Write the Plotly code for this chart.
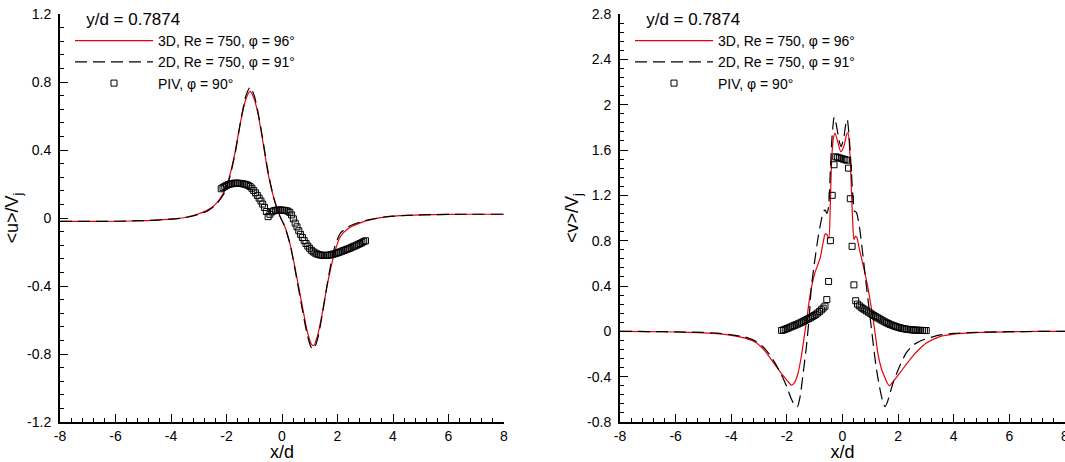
import plotly.graph_objects as go

# ---------------- data: left panel  <u>/Vj ----------------
x_u3d = [-8, -7, -6, -5, -4.5, -4, -3.5, -3.0, -2.7, -2.4, -2.1, -1.9, -1.7, -1.5, -1.3, -1.15,
         -1.0, -0.85, -0.7, -0.5, -0.3, -0.1, 0.1, 0.3, 0.5, 0.7, 0.9, 1.05, 1.15, 1.3, 1.45, 1.6,
         1.75, 1.9, 2.1, 2.4, 2.8, 3.2, 3.8, 4.5, 5.5, 6.5, 8]
u_3d = [-0.02, -0.02, -0.019, -0.016, -0.012, -0.007, 0.003, 0.025, 0.045, 0.08, 0.15, 0.24, 0.38,
        0.56, 0.70, 0.745, 0.70, 0.60, 0.46, 0.26, 0.12, 0.02, -0.05, -0.16, -0.32, -0.49, -0.66,
        -0.74, -0.75, -0.68, -0.56, -0.42, -0.30, -0.20, -0.11, -0.06, -0.03, -0.01, 0.008, 0.015,
        0.02, 0.022, 0.022]

x_u2d = [-8, -7, -6, -5, -4.5, -4, -3.5, -3.0, -2.7, -2.4, -2.1, -1.9, -1.7, -1.5, -1.3, -1.15,
         -1.0, -0.85, -0.7, -0.5, -0.3, -0.1, 0.1, 0.3, 0.5, 0.7, 0.9, 1.05, 1.15, 1.3, 1.45, 1.6,
         1.75, 1.9, 2.1, 2.4, 2.8, 3.2, 3.8, 4.5, 5.5, 6.5, 8]
u_2d = [-0.02, -0.02, -0.019, -0.016, -0.012, -0.007, 0.002, 0.022, 0.04, 0.075, 0.14, 0.23, 0.37,
        0.56, 0.72, 0.77, 0.72, 0.61, 0.47, 0.27, 0.12, 0.02, -0.05, -0.16, -0.33, -0.51, -0.68,
        -0.76, -0.77, -0.70, -0.57, -0.42, -0.28, -0.17, -0.09, -0.05, -0.025, -0.008, 0.008, 0.015,
        0.02, 0.022, 0.022]

# PIV measurement positions (shared by both panels)
x_piv = [-2.19, -2.125, -2.06, -1.995, -1.93, -1.865, -1.8, -1.735, -1.67, -1.605, -1.54, -1.475,
         -1.41, -1.345, -1.28, -1.215, -1.15, -1.085, -1.02, -0.955, -0.89, -0.825, -0.76, -0.695,
         -0.63, -0.565, -0.5, -0.435, -0.37, -0.305, -0.24, -0.175, -0.11, -0.045, 0.02, 0.085,
         0.15, 0.215, 0.28, 0.345, 0.41, 0.475, 0.54, 0.605, 0.67, 0.735, 0.8, 0.865, 0.93, 0.995,
         1.06, 1.125, 1.19, 1.255, 1.32, 1.385, 1.45, 1.515, 1.58, 1.645, 1.71, 1.775, 1.84, 1.905,
         1.97, 2.035, 2.1, 2.165, 2.23, 2.295, 2.36, 2.425, 2.49, 2.555, 2.62, 2.685, 2.75, 2.815,
         2.88, 2.945, 3.01]
u_piv = [0.172, 0.180, 0.186, 0.192, 0.197, 0.200, 0.202, 0.204, 0.205, 0.205, 0.204, 0.203,
         0.201, 0.199, 0.196, 0.192, 0.185, 0.175, 0.162, 0.148, 0.133, 0.117, 0.100, 0.082,
         0.062, 0.038, 0.008, 0.022, 0.036, 0.042, 0.045, 0.046, 0.047, 0.047, 0.046, 0.045,
         0.043, 0.040, 0.033, 0.018, -0.005, -0.030, -0.052, -0.075, -0.096, -0.115, -0.133, -0.150,
         -0.165, -0.178, -0.190, -0.199, -0.206, -0.211, -0.215, -0.218, -0.219, -0.220, -0.220,
         -0.219, -0.218, -0.216, -0.213, -0.210, -0.207, -0.203, -0.199, -0.195, -0.191, -0.187,
         -0.183, -0.179, -0.174, -0.169, -0.165, -0.160, -0.155, -0.150, -0.145, -0.139, -0.134]

# ---------------- data: right panel  <v>/Vj ----------------
x_v3d = [-8, -7, -6, -5, -4.5, -4, -3.5, -3.1, -2.8, -2.5, -2.2, -2.0, -1.84, -1.72, -1.6, -1.48,
         -1.36, -1.25, -1.18, -1.08, -1.0, -0.9, -0.8, -0.7, -0.62, -0.55, -0.49, -0.44, -0.4,
         -0.34, -0.27, -0.18, -0.06, 0.06, 0.15, 0.2, 0.27, 0.32, 0.37, 0.41, 0.47, 0.53, 0.6,
         0.67, 0.8, 0.91, 1.0, 1.09, 1.18, 1.27, 1.4, 1.51, 1.62, 1.69, 1.8, 2.05, 2.3, 2.52,
         2.75, 3.0, 3.5, 4, 4.5, 5, 6, 7, 8]
v_3d = [0.0, -0.002, -0.006, -0.013, -0.02, -0.035, -0.06, -0.10, -0.17, -0.27, -0.37, -0.43,
        -0.475, -0.45, -0.37, -0.22, -0.02, 0.17, 0.30, 0.43, 0.51, 0.58, 0.65, 0.78, 0.86, 0.85,
        0.82, 1.1, 1.45, 1.68, 1.75, 1.68, 1.585, 1.64, 1.74, 1.75, 1.55, 1.25, 0.95, 0.81, 0.84,
        0.82, 0.73, 0.66, 0.52, 0.39, 0.26, 0.13, -0.03, -0.19, -0.33, -0.40, -0.46, -0.48,
        -0.45, -0.37, -0.29, -0.22, -0.16, -0.106, -0.047, -0.025, -0.016, -0.01, -0.004,
        -0.001, 0.0]

x_v2d = [-8, -7, -6, -5, -4.5, -4, -3.5, -3.1, -2.8, -2.5, -2.2, -2.0, -1.85, -1.7, -1.62, -1.52,
         -1.42, -1.3, -1.2, -1.12, -1.0, -0.89, -0.78, -0.68, -0.62, -0.56, -0.5, -0.44, -0.38,
         -0.3, -0.22, -0.12, -0.05, 0.04, 0.12, 0.17, 0.24, 0.31, 0.37, 0.43, 0.5, 0.61, 0.73,
         0.85, 0.97, 1.09, 1.2, 1.33, 1.45, 1.53, 1.62, 1.81, 2.05, 2.29, 2.55, 2.88, 3.48, 4,
         5, 6, 7, 8]
v_2d = [0.0, -0.002, -0.005, -0.01, -0.016, -0.03, -0.05, -0.09, -0.15, -0.25, -0.38, -0.49,
        -0.59, -0.66, -0.665, -0.57, -0.38, -0.14, 0.12, 0.39, 0.62, 0.81, 0.96, 1.06, 1.07, 1.04,
        1.1, 1.4, 1.70, 1.89, 1.82, 1.68, 1.63, 1.70, 1.83, 1.87, 1.72, 1.45, 1.2, 1.06, 1.05,
        0.92, 0.68, 0.42, 0.17, -0.08, -0.30, -0.49, -0.62, -0.665, -0.62, -0.46, -0.31, -0.19,
        -0.12, -0.077, -0.033, -0.018, -0.008, -0.003, -0.001, 0.0]

v_piv = [0.008, 0.012, 0.018, 0.025, 0.031, 0.038, 0.045, 0.052, 0.058, 0.065, 0.072, 0.080,
         0.088, 0.096, 0.104, 0.112, 0.120, 0.130, 0.140, 0.150, 0.162, 0.175, 0.190, 0.205,
         0.222, 0.280, 0.44, 0.80, 1.20, 1.47, 1.54, 1.535, 1.53, 1.525, 1.52, 1.515, 1.51, 1.44,
         1.17, 0.75, 0.41, 0.27, 0.240, 0.225, 0.212, 0.200, 0.190, 0.180, 0.170, 0.160, 0.150,
         0.140, 0.130, 0.120, 0.111, 0.102, 0.093, 0.084, 0.076, 0.068, 0.061, 0.055, 0.049,
         0.043, 0.038, 0.033, 0.029, 0.025, 0.022, 0.019, 0.017, 0.015, 0.013, 0.012, 0.011,
         0.010, 0.009, 0.008, 0.008, 0.007, 0.007]

# ---------------- labels & ticks ----------------
legend_title = "&nbsp;&nbsp;&nbsp;y/d = 0.7874"
name_3d = "3D, Re = 750, φ = 96°"
name_2d = "2D, Re = 750, φ = 91°"
name_piv = "PIV, φ = 90°"
x_ticks = [-8, -6, -4, -2, 0, 2, 4, 6, 8]
x_ticktext = ["-8", "-6", "-4", "-2", "0", "2", "4", "6", "8"]
u_ticks = [-1.2, -0.8, -0.4, 0, 0.4, 0.8, 1.2]
u_ticktext = ["-1.2", "-0.8", "-0.4", "0", "0.4", "0.8", "1.2"]
v_ticks = [-0.8, -0.4, 0, 0.4, 0.8, 1.2, 1.6, 2, 2.4, 2.8]
v_ticktext = ["-0.8", "-0.4", "0", "0.4", "0.8", "1.2", "1.6", "2", "2.4", "2.8"]

FONT = "Liberation Sans, Arial, Helvetica, sans-serif"
RED = "#e8000b"
DASH = "12px,6px"

fig = go.Figure()

# left panel
fig.add_trace(go.Scatter(x=x_u3d, y=u_3d, mode="lines", name=name_3d,
                         line=dict(color=RED, width=1.2, shape="spline", smoothing=0.6),
                         xaxis="x", yaxis="y", legend="legend"))
fig.add_trace(go.Scatter(x=x_u2d, y=u_2d, mode="lines", name=name_2d,
                         line=dict(color="black", width=1.2, dash=DASH, shape="spline", smoothing=0.6),
                         xaxis="x", yaxis="y", legend="legend"))
fig.add_trace(go.Scatter(x=x_piv, y=u_piv, mode="markers", name=name_piv,
                         marker=dict(symbol="square-open", size=6, color="black", line=dict(width=1)),
                         xaxis="x", yaxis="y", legend="legend"))

# right panel
fig.add_trace(go.Scatter(x=x_v3d, y=v_3d, mode="lines", name=name_3d,
                         line=dict(color=RED, width=1.2, shape="spline", smoothing=0.6),
                         xaxis="x2", yaxis="y2", legend="legend2"))
fig.add_trace(go.Scatter(x=x_v2d, y=v_2d, mode="lines", name=name_2d,
                         line=dict(color="black", width=1.2, dash=DASH, shape="spline", smoothing=0.6),
                         xaxis="x2", yaxis="y2", legend="legend2"))
fig.add_trace(go.Scatter(x=x_piv, y=v_piv, mode="markers", name=name_piv,
                         marker=dict(symbol="square-open", size=6, color="black", line=dict(width=1)),
                         xaxis="x2", yaxis="y2", legend="legend2"))

L, R, T, B = 60, 0, 14, 40
W, H = 1065, 462
PW = W - L - R


def px2dom(px):
    return (px - L) / PW


common_x = dict(range=[-8, 8], tickvals=x_ticks, ticktext=x_ticktext, ticks="inside", ticklen=8,
                tickwidth=1, tickcolor="black", showline=True, linewidth=2, linecolor="black",
                showgrid=False, zeroline=False, ticklabeloverflow="allow",
                minor=dict(dtick=0.4, tick0=-8, ticks="inside", ticklen=4, tickwidth=1,
                           tickcolor="black", showgrid=False),
                tickfont=dict(family=FONT, size=14, color="black"),
                title=dict(text="x/d", font=dict(family=FONT, size=18, color="black"), standoff=2))


def common_y(rng, vals, text, title):
    return dict(range=rng, tickvals=vals, ticktext=text, ticks="inside", ticklen=8,
                tickwidth=1, tickcolor="black", showline=True, linewidth=2, linecolor="black",
                showgrid=False, zeroline=False, ticklabelstandoff=4,
                minor=dict(dtick=0.08, tick0=rng[0], ticks="inside", ticklen=4, tickwidth=1,
                           tickcolor="black", showgrid=False),
                tickfont=dict(family=FONT, size=14, color="black"),
                title=dict(text=title, font=dict(family=FONT, size=18, color="black"), standoff=4))


def legend_cfg(xpx):
    return dict(x=px2dom(xpx), y=(H - B - 3) / (H - T - B), xanchor="left", yanchor="top",
                bgcolor="rgba(0,0,0,0)", borderwidth=0, itemwidth=78, tracegroupgap=0,
                font=dict(family=FONT, size=14, color="black"),
                title=dict(text=legend_title, font=dict(family=FONT, size=17, color="black")),
                traceorder="normal")


fig.update_layout(
    width=W, height=H,
    margin=dict(l=L, r=R, t=T, b=B, autoexpand=False),
    paper_bgcolor="white", plot_bgcolor="white",
    showlegend=True,
    xaxis=dict(domain=[px2dom(60), px2dom(504)], anchor="y", **common_x),
    yaxis=dict(domain=[0, 1], anchor="x",
               **common_y([-1.2, 1.2], u_ticks, u_ticktext, "&lt;u&gt;/V<sub>j</sub>")),
    xaxis2=dict(domain=[px2dom(620), 1.0], anchor="y2", **common_x),
    yaxis2=dict(domain=[0, 1], anchor="x2",
                **common_y([-0.8, 2.8], v_ticks, v_ticktext, "&lt;v&gt;/V<sub>j</sub>")),
    legend=legend_cfg(70),
    legend2=legend_cfg(630),
)

fig.write_html("out.html",
               config={"displayModeBar": False},
               post_script="document.body.style.margin='0';document.body.style.overflow='hidden';")
